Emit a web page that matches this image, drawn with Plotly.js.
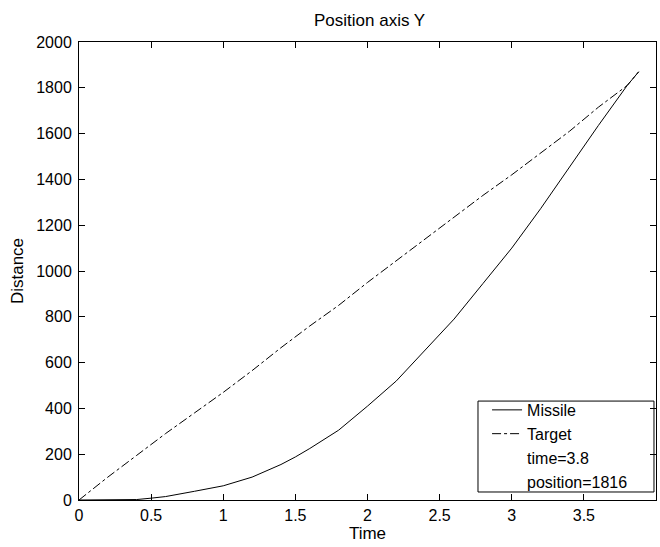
<!DOCTYPE html>
<html>
<head>
<meta charset="utf-8">
<script src="https://cdn.plot.ly/plotly-3.0.1.min.js"></script>
<style>html,body{margin:0;padding:0;background:#fff;}#chart{width:660px;height:547px;}</style>
</head>
<body>
<div id="chart"></div>
<script>
const missileTime = [0, 0.2, 0.4, 0.5, 0.6, 0.8, 1.0, 1.2, 1.4, 1.5, 1.6, 1.8, 2.0, 2.2, 2.4, 2.6, 2.8, 3.0, 3.2, 3.4, 3.6, 3.8, 3.88];
const missilePos  = [0, 0, 2, 8, 15, 38, 62, 100, 155, 188, 225, 305, 410, 520, 655, 790, 945, 1100, 1272, 1455, 1635, 1810, 1870];
const targetTime = [0, 0.2, 0.4, 0.6, 0.8, 1.0, 1.2, 1.4, 1.6, 1.8, 2.0, 2.2, 2.4, 2.6, 2.8, 3.0, 3.2, 3.4, 3.6, 3.8, 3.88];
const targetPos  = [0, 100, 195, 290, 380, 470, 565, 665, 760, 850, 950, 1045, 1140, 1235, 1330, 1420, 1515, 1610, 1715, 1810, 1870];
const legendNotes = ["time=3.8", "position=1816"];
const xTicks = [0, 0.5, 1, 1.5, 2, 2.5, 3, 3.5, 4];
const yTicks = [0, 200, 400, 600, 800, 1000, 1200, 1400, 1600, 1800, 2000];

const fam = "Liberation Sans, Arial, sans-serif";
const tickFont = {family: fam, size: 16, color: "#000"};
const textFont = {family: fam, size: 17, color: "#000"};
const legendFont = {family: fam, size: 16, color: "#000"};

const traces = [
  {x: missileTime, y: missilePos, name: "Missile", mode: "lines", line: {color: "#000", width: 1}},
  {x: targetTime, y: targetPos, name: "Target", mode: "lines", line: {color: "#000", width: 1, dash: "dashdot"}}
];
legendNotes.forEach(t => traces.push({x: [null], y: [null], name: t, mode: "lines", line: {color: "rgba(0,0,0,0)", width: 0}, hoverinfo: "skip"}));

const axisCommon = {
  showgrid: false, zeroline: false, showline: true, linecolor: "#000", linewidth: 1,
  mirror: "ticks", ticks: "inside", ticklen: 6, tickcolor: "#000", tickfont: tickFont
};

const layout = {
  width: 660, height: 547,
  margin: {l: 79, r: 4, t: 42, b: 47},
  paper_bgcolor: "#fff", plot_bgcolor: "#fff",
  font: textFont,
  showlegend: true,
  title: {text: "Position axis Y", font: textFont, x: 0.56, xanchor: "center", xref: "container", y: 0.963, yanchor: "middle", yref: "container"},
  xaxis: Object.assign({}, axisCommon, {range: [0, 4], tickvals: xTicks, ticktext: xTicks.map(String), ticklabelstandoff: 1,
    title: {text: "Time", font: textFont, standoff: 2}}),
  yaxis: Object.assign({}, axisCommon, {range: [0, 2000], tickvals: yTicks, ticktext: yTicks.map(String), ticklabelstandoff: 3,
    title: {text: "Distance", font: textFont, standoff: 8}}),
  legend: {x: 0.7072, y: 0.2337, xanchor: "left", yanchor: "top", bgcolor: "rgba(0,0,0,0)", borderwidth: 0,
    font: legendFont, tracegroupgap: 0, itemwidth: 30},
  shapes: [{type: "rect", xref: "paper", yref: "paper", x0: 0.6915, x1: 0.9965, y0: 0.0175, y1: 0.216,
    line: {color: "#000", width: 1}, fillcolor: "#fff", layer: "below"}]
};

Plotly.newPlot("chart", traces, layout, {displayModeBar: false, staticPlot: true});
</script>
</body>
</html>
